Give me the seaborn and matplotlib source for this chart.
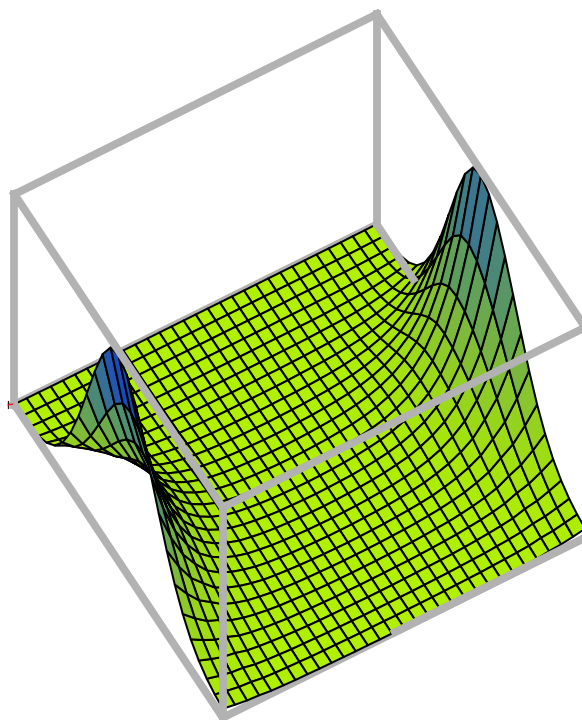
import numpy as np
import matplotlib
matplotlib.use("Agg")
import matplotlib.pyplot as plt
from matplotlib.lines import Line2D
import seaborn as sns

sns.set_style("white")

# Grid size of the mesh
n_x_cells = 30
n_y_cells = 26

# Heights in thousandths, one row per x step from the wall towards the middle
# (the surface mirrors across the middle, so only half is listed)
wall_rows = [
    [2, 4, 10, 23, 48, 92, 164, 268, 404, 565, 729, 870, 959, 978, 945, 871, 765, 641, 514, 394, 290, 207, 144, 100, 71, 53, 43],
    [1, 3, 7, 16, 34, 64, 114, 186, 281, 392, 506, 604, 665, 679, 658, 609, 540, 458, 372, 290, 218, 158, 112, 79, 56, 42, 33],
    [1, 2, 5, 11, 23, 43, 77, 126, 190, 265, 342, 408, 450, 459, 446, 415, 371, 318, 262, 207, 158, 117, 85, 60, 43, 32, 25],
    [0, 1, 3, 7, 15, 30, 52, 84, 128, 179, 230, 275, 304, 310, 301, 283, 257, 224, 189, 154, 121, 93, 69, 50, 37, 27, 21],
    [0, 1, 2, 5, 10, 20, 35, 57, 87, 121, 156, 186, 206, 210, 204, 192, 174, 152, 128, 104, 82, 63, 47, 34, 25, 18, 14],
    [0, 1, 2, 3, 7, 14, 24, 40, 60, 84, 108, 129, 142, 145, 141, 133, 121, 107, 91, 75, 60, 46, 35, 26, 19, 14, 11],
    [0, 0, 1, 2, 5, 9, 17, 27, 41, 58, 74, 89, 98, 100, 98, 92, 85, 75, 64, 54, 43, 34, 26, 20, 15, 11, 8],
    [0, 0, 1, 2, 3, 7, 12, 19, 29, 40, 52, 62, 69, 70, 68, 65, 60, 53, 46, 39, 32, 25, 20, 15, 11, 9, 7],
    [0, 0, 1, 1, 2, 5, 8, 13, 20, 28, 36, 43, 47, 48, 47, 45, 41, 37, 32, 27, 23, 18, 14, 11, 9, 6, 5],
    [0, 0, 0, 1, 2, 3, 6, 9, 14, 20, 25, 30, 33, 34, 33, 32, 30, 27, 23, 20, 17, 14, 11, 8, 7, 5, 4],
    [0, 0, 0, 1, 1, 2, 4, 7, 10, 14, 18, 21, 23, 24, 24, 23, 21, 19, 17, 15, 12, 10, 8, 6, 5, 4, 3],
    [0, 0, 0, 0, 1, 2, 3, 5, 7, 10, 13, 15, 17, 17, 17, 16, 15, 14, 12, 11, 9, 7, 6, 5, 4, 3, 2],
    [0, 0, 0, 0, 1, 1, 2, 3, 5, 7, 9, 11, 12, 12, 12, 11, 11, 10, 9, 8, 7, 5, 4, 4, 3, 2, 2],
    [0, 0, 0, 0, 0, 1, 2, 2, 4, 5, 7, 8, 9, 9, 9, 9, 8, 7, 7, 6, 5, 4, 4, 3, 2, 2, 1],
    [0, 0, 0, 0, 0, 1, 1, 2, 3, 4, 5, 6, 7, 7, 7, 7, 6, 6, 5, 5, 4, 3, 3, 2, 2, 2, 1],
    [0, 0, 0, 0, 0, 1, 1, 2, 2, 3, 4, 5, 6, 6, 6, 6, 5, 5, 5, 4, 4, 3, 3, 2, 2, 1, 1],
]

heights = np.array(wall_rows + wall_rows[-2::-1]) / 1000
x_vals = np.linspace(0, 1, n_x_cells + 1)
y_vals = np.linspace(0, 1, n_y_cells + 1)
X, Y = np.meshgrid(x_vals, y_vals, indexing="ij")

# Colour per cell: mean height, the far wall runs a bit bluer than the near one
cell = (heights[:-1, :-1] + heights[1:, :-1] + heights[:-1, 1:] + heights[1:, 1:]) / 4
tone = np.zeros_like(heights)
tone[:-1, :-1] = cell ** 1.15 * (0.92 + 0.30 * (X[:-1, :-1] + 1 / n_x_cells))
cmap = sns.blend_palette(["#B0F000", "#86C230", "#5A9A60", "#3A7590", "#1445C0"], as_cmap=True)

fig = plt.figure(figsize=(5.82, 7.2), dpi=100)
ax = fig.add_axes([-111 / 582, -56.8 / 720, 800 / 582, 800 / 720], projection="3d", computed_zorder=False)
ax.set_proj_type("ortho")
ax.view_init(elev=59.8, azim=60.1)
ax.set_box_aspect((1, 1, 1), zoom=0.8785)
ax.set_xlim(0, 1, view_margin=0)
ax.set_ylim(0, 1, view_margin=0)
ax.set_zlim(0, 1, view_margin=0)
ax.set_axis_off()

grey = "#b2b2b2"


def edge(p, q, z):
    ax.plot([p[0], q[0]], [p[1], q[1]], [p[2], q[2]], color=grey, lw=5.6, zorder=z, solid_capstyle="projecting")


# Box edges under the surface
edge((0, 0, 0), (1, 0, 0), 1)
edge((0, 1, 0), (1, 1, 0), 1)

ax.plot_surface(X, Y, heights, facecolors=cmap(np.clip(tone, 0, 1)), shade=False, rstride=1, cstride=1,
                edgecolor="black", linewidth=1.45, antialiased=True, zorder=2)

# Box edges over the surface
edge((0, 0, 0), (0, 0.175, 0), 3)
edge((0, 1, 0), (0.525, 1, 0), 3)
edge((1, 0, 0), (1, 1, 0), 3)
edge((0, 0, 1), (1, 0, 1), 3)
edge((0, 0, 1), (0, 1, 1), 3)
edge((1, 0, 1), (1, 1, 1), 3)
edge((0, 1, 1), (1, 1, 1), 3)
edge((0, 0, 0), (0, 0, 1), 3)
edge((1, 0, 0), (1, 0, 1), 3)
edge((0, 1, 0), (0, 1, 1), 3)
edge((1, 1, 0), (1, 1, 1), 3)

# Small axis stub at the left corner
fig.add_artist(Line2D([7.5 / 582, 7.5 / 582], [1 - 401 / 720, 1 - 408 / 720], color="#301010", lw=1, zorder=5))
fig.add_artist(Line2D([8 / 582, 13 / 582], [1 - 405 / 720, 1 - 404 / 720], color="#e01020", lw=0.9, zorder=5))

fig.savefig("out.png", dpi=100)
